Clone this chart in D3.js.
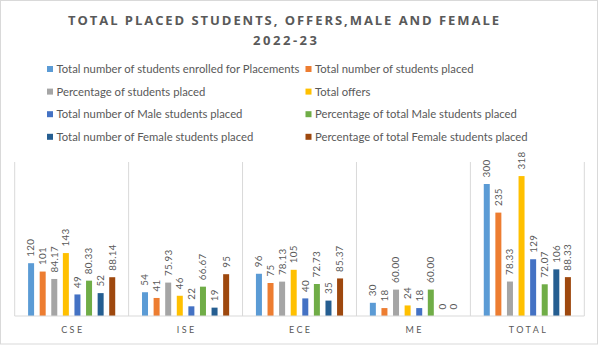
<!DOCTYPE html>
<html>
<head>
<meta charset="utf-8">
<script src="https://cdn.jsdelivr.net/npm/d3@7/dist/d3.min.js"></script>
<style>
  html, body { margin: 0; padding: 0; background: #fff; }
  svg { display: block; }
  text { font-family: Lato, "Open Sans", sans-serif; fill: #595959; }
</style>
</head>
<body>
<svg id="chart" width="600" height="345"></svg>
<script>
// ---------- data ----------
const titleLines = ["TOTAL PLACED STUDENTS, OFFERS,MALE AND FEMALE", "2022-23"];
const categories = ["CSE", "ISE", "ECE", "ME", "TOTAL"];
const seriesNames = [
  "Total number of students enrolled for Placements",
  "Total number of students placed",
  "Percentage of students placed",
  "Total offers",
  "Total number of Male students placed",
  "Percentage of total Male students placed",
  "Total number of Female students placed",
  "Percentage of total Female students placed"
];
const seriesColors = ["#5B9BD5", "#ED7D31", "#A5A5A5", "#FFC000", "#4472C4", "#70AD47", "#255E91", "#9E480E"];
// values per series, in category order (CSE, ISE, ECE, ME, TOTAL), kept as the labels shown
const enrolled      = ["120", "54", "96", "30", "300"];
const placed        = ["101", "41", "75", "18", "235"];
const pctPlaced     = ["84.17", "75.93", "78.13", "60.00", "78.33"];
const offers        = ["143", "46", "105", "24", "318"];
const malePlaced    = ["49", "22", "40", "18", "129"];
const pctMale       = ["80.33", "66.67", "72.73", "60.00", "72.07"];
const femalePlaced  = ["52", "19", "35", "0", "106"];
const pctFemale     = ["88.14", "95", "85.37", "0", "88.33"];
const seriesValues = [enrolled, placed, pctPlaced, offers, malePlaced, pctMale, femalePlaced, pctFemale];
const yMax = 350;

// ---------- layout ----------
const svg = d3.select("#chart");
const W = 600, H = 345;
const plot = { left: 14.7, right: 584.3, top: 162, bottom: 316 };

// chart border
svg.append("rect")
  .attr("x", 0.5).attr("y", 0.5).attr("width", W - 3).attr("height", H - 1.5)
  .attr("fill", "#fff").attr("stroke", "#d9d9d9").attr("stroke-width", 1);

// title
const titleG = svg.append("g");
titleG.append("text")
  .attr("x", 283.5).attr("y", 25)
  .attr("text-anchor", "middle")
  .attr("font-size", 13).attr("font-weight", "bold")
  .attr("textLength", 431).attr("lengthAdjust", "spacing")
  .style("font-family", "'Open Sans', sans-serif")
  .text(titleLines[0]);
titleG.append("text")
  .attr("x", 285).attr("y", 45)
  .attr("text-anchor", "middle")
  .attr("font-size", 13).attr("font-weight", "bold")
  .attr("textLength", 64).attr("lengthAdjust", "spacing")
  .style("font-family", "'Open Sans', sans-serif")
  .text(titleLines[1]);

// legend
const legendCols = [47, 305.5];
const legendRows = [69, 91.6, 114.2, 136.8];
const legend = svg.append("g");
seriesNames.forEach((name, i) => {
  const cx = legendCols[i % 2], cy = legendRows[Math.floor(i / 2)];
  const g = legend.append("g").attr("transform", `translate(${cx},${cy})`);
  g.append("rect").attr("x", 0).attr("y", -3).attr("width", 6).attr("height", 6)
    .attr("fill", seriesColors[i]);
  g.append("text").attr("x", 9.5).attr("y", 0).attr("dy", "0.36em")
    .attr("font-size", 11.3)
    .text(name);
});

// scales
const x0 = d3.scaleBand().domain(categories).range([plot.left, plot.right]).paddingInner(0).paddingOuter(0);
const x1 = d3.scaleBand().domain(d3.range(seriesNames.length)).range([10.6, x0.bandwidth() - 10.6]).padding(0);
const y = d3.scaleLinear().domain([0, yMax]).range([plot.bottom, plot.top]);
const barW = 6;

// separators
const bounds = categories.map(c => x0(c)).concat([x0(categories[categories.length - 1]) + x0.bandwidth()]);
svg.append("g").selectAll("line").data(bounds).join("line")
  .attr("x1", d => d).attr("x2", d => d)
  .attr("y1", plot.top).attr("y2", plot.bottom)
  .attr("stroke", "#d9d9d9").attr("stroke-width", 1);

// bars
const cells = [];
categories.forEach((c, ci) => {
  seriesValues.forEach((arr, si) => {
    cells.push({ cat: c, s: si, label: arr[ci], v: +arr[ci] });
  });
});
const barsG = svg.append("g");
barsG.selectAll("rect").data(cells).join("rect")
  .attr("x", d => x0(d.cat) + x1(d.s) + (x1.bandwidth() - barW) / 2)
  .attr("width", barW)
  .attr("y", d => y(d.v))
  .attr("height", d => y(0) - y(d.v))
  .attr("fill", d => seriesColors[d.s]);

// baseline
svg.append("line")
  .attr("x1", plot.left).attr("x2", plot.right)
  .attr("y1", y(0)).attr("y2", y(0))
  .attr("stroke", "#d9d9d9").attr("stroke-width", 1);

// data labels (rotated)
barsG.selectAll("text").data(cells).join("text")
  .attr("transform", d => {
    const cx = x0(d.cat) + x1(d.s) + x1.bandwidth() / 2 + 3.4;
    const ty = y(d.v) - 6.5;
    return `translate(${cx},${ty}) rotate(-90)`;
  })
  .attr("font-size", 9.8)
  .attr("text-anchor", "start")
  .style("letter-spacing", "0.3px")
  .text(d => d.label);

// category axis labels
svg.append("g").selectAll("text").data(categories).join("text")
  .attr("x", d => x0(d) + x0.bandwidth() / 2 + 1.2)
  .attr("y", 332.7)
  .attr("text-anchor", "middle")
  .attr("font-size", 9)
  .style("letter-spacing", "2.4px")
  .text(d => d);
</script>
</body>
</html>
